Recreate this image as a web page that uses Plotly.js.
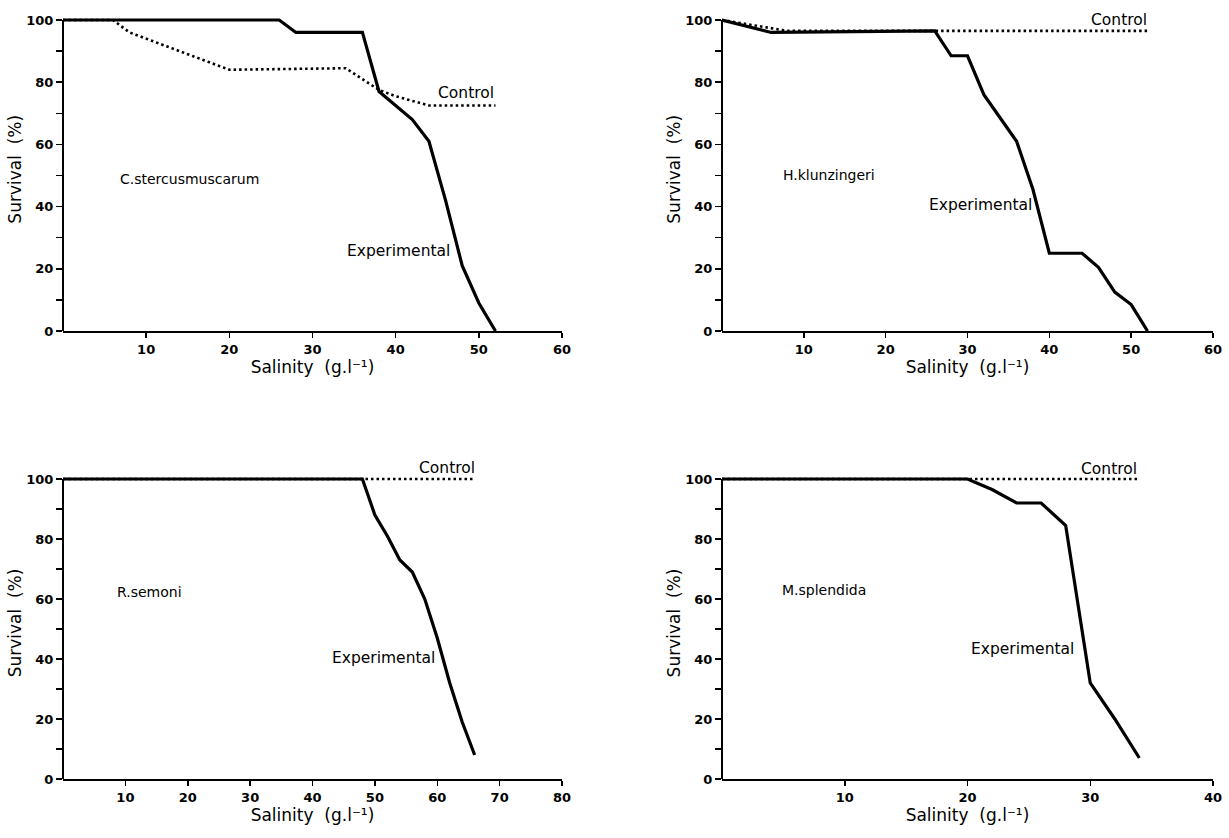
<!DOCTYPE html>
<html>
<head>
<meta charset="utf-8">
<script src="https://cdn.plot.ly/plotly-3.0.1.min.js"></script>
<style>html,body{margin:0;padding:0;background:#fff;}#chart{width:1229px;height:838px;}</style>
</head>
<body>
<div id="chart"></div>
<script>
// ---- Data ----
// Panel A: C.stercusmuscarum
const speciesA = "C.stercusmuscarum";
const expA_x = [0, 26, 28, 36, 38, 42, 44, 46, 48, 50, 52];
const expA_y = [100, 100, 96, 96, 77, 68, 61, 42, 21, 9, 0];
const ctlA_x = [0, 6, 8, 10, 20, 34, 36, 38, 40, 42, 44, 52];
const ctlA_y = [100, 100, 96, 94, 84, 84.5, 81, 77.5, 75.5, 74, 72.5, 72.5];

// Panel B: H.klunzingeri
const speciesB = "H.klunzingeri";
const expB_x = [0, 6, 26, 28, 30, 32, 34, 36, 38, 40, 44, 46, 48, 50, 52];
const expB_y = [100, 96, 96.5, 88.5, 88.5, 76, 68.5, 61, 45.5, 25, 25, 20.5, 12.5, 8.5, 0];
const ctlB_x = [0, 8, 52];
const ctlB_y = [100, 96.5, 96.5];

// Panel C: R.semoni
const speciesC = "R.semoni";
const expC_x = [0, 48, 50, 52, 54, 56, 58, 60, 62, 64, 66];
const expC_y = [100, 100, 88, 81, 73, 69, 60, 47, 32, 19, 8];
const ctlC_x = [0, 66];
const ctlC_y = [100, 100];

// Panel D: M.splendida
const speciesD = "M.splendida";
const expD_x = [0, 20, 22, 24, 26, 28, 30, 32, 34];
const expD_y = [100, 100, 96.5, 92, 92, 84.5, 32, 20, 7];
const ctlD_x = [0, 34];
const ctlD_y = [100, 100];

// Axis extents and ticks
const xMaxA = 60, xMaxB = 60, xMaxC = 80, xMaxD = 40;
const xTicksA = [10, 20, 30, 40, 50, 60];
const xTicksB = [10, 20, 30, 40, 50, 60];
const xTicksC = [10, 20, 30, 40, 50, 60, 70, 80];
const xTicksD = [10, 20, 30, 40];
const yTickVals = [0, 20, 40, 60, 80, 100];
const yTickText = ["0", "20", "40", "60", "80", "100"];

// Label positions (data units) for the in-plot annotations
const labelPos = {
  A: {species: [6.6, 49], control: [44.8, 76.5], experimental: [33.9, 25.6]},
  B: {species: [7.2, 50], control: [44.8, 100], experimental: [25.0, 40.4]},
  C: {species: [8.3, 62.5], control: [56.7, 103.8], experimental: [42.8, 40.3]},
  D: {species: [4.7, 62.9], control: [29.1, 103.2], experimental: [20.1, 43.3]}
};

const FONT = "DejaVu Sans, Arial, sans-serif";
const xTitle = "Salinity  (g.l\u207B\u00B9)";
const yTitle = "Survival  (%)";

const panels = [
  {k: "A", xa: "x",  ya: "y",  sp: speciesA, ex: expA_x, ey: expA_y, cx: ctlA_x, cy: ctlA_y, xmax: xMaxA, xt: xTicksA},
  {k: "B", xa: "x2", ya: "y2", sp: speciesB, ex: expB_x, ey: expB_y, cx: ctlB_x, cy: ctlB_y, xmax: xMaxB, xt: xTicksB},
  {k: "C", xa: "x3", ya: "y3", sp: speciesC, ex: expC_x, ey: expC_y, cx: ctlC_x, cy: ctlC_y, xmax: xMaxC, xt: xTicksC},
  {k: "D", xa: "x4", ya: "y4", sp: speciesD, ex: expD_x, ey: expD_y, cx: ctlD_x, cy: ctlD_y, xmax: xMaxD, xt: xTicksD}
];

const W = 1229, H = 838;
// pixel geometry of the plot areas
const colX = [[63, 562], [722, 1213]];
const rowY = [[20, 331], [479, 779]]; // [y of 100, y of 0]
const yTop = 104;

const traces = [];
const annotations = [];
const shapes = [];
const layout = {
  width: W, height: H,
  margin: {l: 0, r: 0, t: 0, b: 0},
  paper_bgcolor: "#fff", plot_bgcolor: "#fff",
  showlegend: false,
  font: {family: FONT, color: "#000", size: 13}
};

panels.forEach((p, i) => {
  const col = i % 2, row = Math.floor(i / 2);
  const [px0, px1] = colX[col];
  const [p100, p0] = rowY[row];
  const pxPerUnit = (p0 - p100) / 100;
  const pTop = p0 - pxPerUnit * yTop;
  const xd = [px0 / W, px1 / W];
  const yd = [1 - p0 / H, 1 - pTop / H];
  const xkey = "xaxis" + (i ? i + 1 : "");
  const ykey = "yaxis" + (i ? i + 1 : "");

  traces.push({
    x: p.cx, y: p.cy, xaxis: p.xa, yaxis: p.ya, type: "scatter", mode: "lines",
    line: {color: "#000", width: 2.6, dash: "2.5px,3px"}, hoverinfo: "skip"
  });
  traces.push({
    x: p.ex, y: p.ey, xaxis: p.xa, yaxis: p.ya, type: "scatter", mode: "lines",
    line: {color: "#000", width: 3.2}, hoverinfo: "skip"
  });

  layout[xkey] = {
    domain: xd, anchor: p.ya, range: [0, p.xmax],
    showgrid: false, zeroline: false, showline: true, linecolor: "#000", linewidth: 2,
    ticks: "outside", ticklen: 5, tickwidth: 1.5, tickcolor: "#000",
    tickvals: p.xt, ticktext: p.xt.map(String),
    tickfont: {family: FONT, size: 13, color: "#000", weight: "bold"},
    title: {text: xTitle, font: {family: FONT, size: 17, color: "#000"}, standoff: 5},
    automargin: false, fixedrange: true
  };
  layout[ykey] = {
    domain: yd, anchor: p.xa, range: [0, yTop],
    showgrid: false, zeroline: false, showline: false,
    ticks: "outside", ticklen: 6, tickwidth: 1.5, tickcolor: "#000",
    tickvals: yTickVals, ticktext: yTickText,
    minor: {dtick: 10, tick0: 0, ticks: "outside", ticklen: 6, tickwidth: 1.5, tickcolor: "#000", showgrid: false},
    tickfont: {family: FONT, size: 13, color: "#000", weight: "bold"},
    title: {text: yTitle, font: {family: FONT, size: 17, color: "#000"}, standoff: 0},
    automargin: false, fixedrange: true
  };

  // y axis line (from 0 to 100 only)
  shapes.push({
    type: "line", xref: p.xa + " domain", yref: p.ya,
    x0: 0, x1: 0, y0: 0, y1: 100,
    line: {color: "#000", width: 2}
  });

  const lp = labelPos[p.k];
  const mk = (txt, pos, size) => ({
    text: txt, x: pos[0], y: pos[1], xref: p.xa, yref: p.ya,
    xanchor: "left", yanchor: "middle", showarrow: false,
    font: {family: FONT, size: size, color: "#000"}
  });
  annotations.push(mk(p.sp, lp.species, 14));
  annotations.push(mk("Control", lp.control, 15.5));
  annotations.push(mk("Experimental", lp.experimental, 15.5));
});

layout.annotations = annotations;
layout.shapes = shapes;

Plotly.newPlot("chart", traces, layout, {staticPlot: true, displayModeBar: false});
</script>
</body>
</html>
